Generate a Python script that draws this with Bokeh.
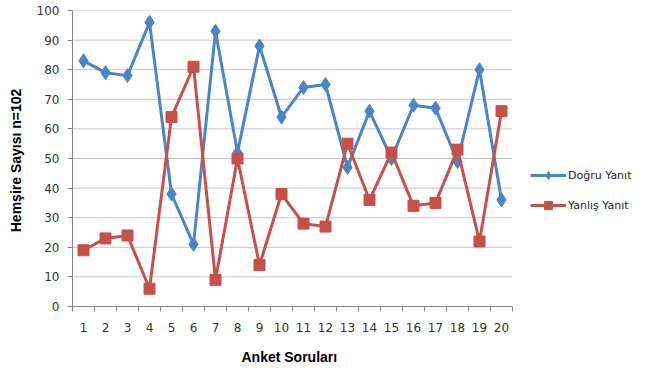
from bokeh.plotting import figure
from bokeh.models import FixedTicker, Legend, LegendItem, Range1d, Title
from bokeh.embed import file_html
from bokeh.resources import INLINE

categories = [str(i) for i in range(1, 21)]
dogru = [83, 79, 78, 96, 38, 21, 93, 52, 88, 64, 74, 75, 47, 66, 50, 68, 67, 49, 80, 36]
yanlis = [19, 23, 24, 6, 64, 81, 9, 50, 14, 38, 28, 27, 55, 36, 52, 34, 35, 53, 22, 66]
y_ticks = list(range(0, 101, 10))

n = len(categories)
xs = list(range(1, n + 1))

W, H = 646, 376
left, top, bottom = 72, 10, 70
plot_w = 440  # width of the category area in px
frame_w = W - left
x_end = 0.5 + n * frame_w / plot_w

p = figure(width=W, height=H, output_backend="svg", toolbar_location=None,
           x_range=Range1d(0.5, x_end), y_range=Range1d(0, 100),
           min_border_left=left, min_border_right=0, min_border_top=top, min_border_bottom=bottom)
p.outline_line_color = None
p.background_fill_color = "white"
p.border_fill_color = "white"

blue = "#4A86C5"
red = "#C8504B"

# dotted horizontal grid over the category area only
p.segment(x0=[0.5] * len(y_ticks), x1=[n + 0.5] * len(y_ticks), y0=y_ticks, y1=y_ticks,
          line_color="#8a8a8a", line_dash="1 1", line_width=1)

l1 = p.line(xs, dogru, line_color=blue, line_width=3)
m1 = p.scatter(xs, dogru, marker="diamond", size=14, fill_color=blue, line_color=blue)
l2 = p.line(xs, yanlis, line_color=red, line_width=3)
m2 = p.scatter(xs, yanlis, marker="square", size=11, fill_color=red, line_color=red)

p.xaxis.bounds = (0.5, n + 0.5)
p.xaxis.ticker = FixedTicker(ticks=xs, minor_ticks=[x - 0.5 for x in xs] + [n + 0.5])
p.xaxis.major_label_overrides = {x: c for x, c in zip(xs, categories)}
p.xaxis.major_tick_line_color = None
p.xaxis.minor_tick_out = 5
p.xaxis.minor_tick_in = 0
p.xaxis.minor_tick_line_color = "#868686"
p.xaxis.axis_line_color = "#868686"
p.xaxis.major_label_standoff = 10
p.xaxis.major_label_text_font = "DejaVu Sans"
p.xaxis.major_label_text_font_size = "12px"
p.xaxis.major_label_text_color = "#333333"

xtitle = Title(text="Anket Soruları", align="left", offset=169, standoff=24,
               text_font="Liberation Sans", text_font_style="bold",
               text_font_size="14px", text_color="#000000")
p.add_layout(xtitle, "below")

p.yaxis.ticker = FixedTicker(ticks=y_ticks)
p.yaxis.minor_tick_line_color = None
p.yaxis.major_tick_out = 5
p.yaxis.major_tick_in = 0
p.yaxis.major_tick_line_color = "#868686"
p.yaxis.axis_line_color = "#868686"
p.yaxis.major_label_standoff = 8
p.yaxis.major_label_text_font = "DejaVu Sans"
p.yaxis.major_label_text_font_size = "12px"
p.yaxis.major_label_text_color = "#333333"
p.yaxis.axis_label = "Hemşire  Sayısı n=102"
p.yaxis.axis_label_text_font = "Liberation Sans"
p.yaxis.axis_label_text_font_style = "bold"
p.yaxis.axis_label_text_font_size = "14px"
p.yaxis.axis_label_text_color = "#000000"
p.yaxis.axis_label_standoff = 10

p.xgrid.grid_line_color = None
p.ygrid.grid_line_color = None

legend = Legend(items=[LegendItem(label="Doğru Yanıt", renderers=[l1, m1]),
                       LegendItem(label="Yanlış Yanıt", renderers=[l2, m2])],
                location=(458, 91), orientation="vertical",
                border_line_color=None, background_fill_alpha=0,
                padding=0, margin=0, spacing=10,
                glyph_width=36, glyph_height=20, label_height=20,
                label_standoff=2,
                label_text_font="DejaVu Sans", label_text_font_size="11px",
                label_text_color="#222222")
p.add_layout(legend, "center")

open("out.html", "w").write(file_html(p, INLINE))
